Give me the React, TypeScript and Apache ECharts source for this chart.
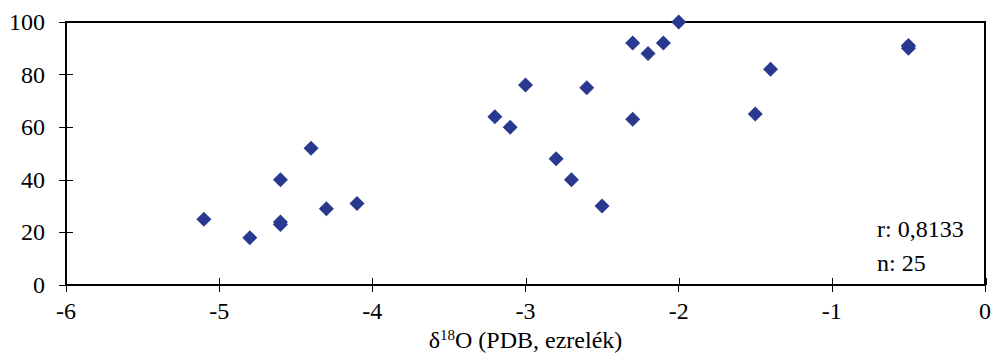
import React, { useEffect, useRef } from "react";
import * as echarts from "echarts";

const xValues = [-5.1, -4.8, -4.6, -4.6, -4.6, -4.4, -4.3, -4.1, -3.2, -3.1, -3.0, -2.8, -2.7, -2.6, -2.5, -2.3, -2.3, -2.2, -2.1, -2.0, -1.5, -1.4, -0.5, -0.5, -0.5];
const yValues = [25, 18, 40, 24, 23, 52, 29, 31, 64, 60, 76, 48, 40, 75, 30, 92, 63, 88, 92, 100, 65, 82, 91, 90, 91];
const statLines = ["r: 0,8133", "n: 25"];
const xName = "δ{sup|18}O (PDB, ezrelék)";

const FONT = "'Liberation Serif', 'DejaVu Serif', serif";

export default function App() {
  const ref = useRef<HTMLDivElement>(null);
  useEffect(() => {
    if (!ref.current) return;
    const chart = echarts.init(ref.current, null, { renderer: "svg" });
    const points = xValues.map((x, i) => [x, yValues[i]]);
    const gridBox = { left: 66, right: 8, top: 22, bottom: 72 };
    const baseX = {
      type: "value",
      min: -6,
      max: 0,
      interval: 1,
      splitLine: { show: false },
    };
    const baseY = {
      type: "value",
      min: 0,
      max: 100,
      interval: 20,
      splitLine: { show: false },
    };
    const tickStyle = { color: "#000", width: 1 };
    chart.setOption({
      animation: false,
      backgroundColor: "#ffffff",
      grid: [
        {
          ...gridBox,
          show: true,
          borderColor: "#000",
          borderWidth: 2,
          backgroundColor: "transparent",
        },
        { ...gridBox, show: false },
      ],
      xAxis: [
        {
          ...baseX,
          gridIndex: 0,
          position: "bottom",
          axisLine: { show: true, onZero: false, lineStyle: { color: "#000", width: 2 } },
          axisTick: { show: true, length: 7, lineStyle: tickStyle },
          axisLabel: { color: "#000", fontFamily: FONT, fontSize: 24, margin: 14 },
          name: xName,
          nameLocation: "middle",
          nameGap: 40,
          nameTextStyle: {
            color: "#000",
            fontFamily: FONT,
            fontSize: 24,
            rich: {
              sup: { fontFamily: FONT, fontSize: 15, color: "#000", verticalAlign: "top", padding: [0, 0, 9, 0] },
            },
          },
        },
        {
          ...baseX,
          gridIndex: 1,
          position: "bottom",
          axisLine: { show: false, onZero: false },
          axisTick: { show: true, inside: true, length: 7, lineStyle: tickStyle },
          axisLabel: { show: false },
        },
      ],
      yAxis: [
        {
          ...baseY,
          gridIndex: 0,
          position: "left",
          axisLine: { show: true, onZero: false, lineStyle: { color: "#000", width: 2 } },
          axisTick: { show: true, length: 7, lineStyle: tickStyle },
          axisLabel: { color: "#000", fontFamily: FONT, fontSize: 24, margin: 21 },
        },
        {
          ...baseY,
          gridIndex: 1,
          position: "left",
          axisLine: { show: false, onZero: false },
          axisTick: { show: true, inside: true, length: 7, lineStyle: tickStyle },
          axisLabel: { show: false },
        },
      ],
      graphic: [
        {
          type: "text",
          left: 877,
          top: 217,
          style: { text: statLines[0], fill: "#000", font: `24px ${FONT}` },
        },
        {
          type: "text",
          left: 877,
          top: 251,
          style: { text: statLines[1], fill: "#000", font: `24px ${FONT}` },
        },
      ],
      series: [
        {
          type: "scatter",
          xAxisIndex: 0,
          yAxisIndex: 0,
          symbol: "diamond",
          symbolSize: 15,
          itemStyle: { color: "#2A3990", opacity: 1 },
          data: points,
        },
      ],
    });
    return () => chart.dispose();
  }, []);
  return (
    <div
      ref={ref}
      style={{ position: "fixed", left: 0, top: 0, width: 994, height: 357 }}
    />
  );
}
